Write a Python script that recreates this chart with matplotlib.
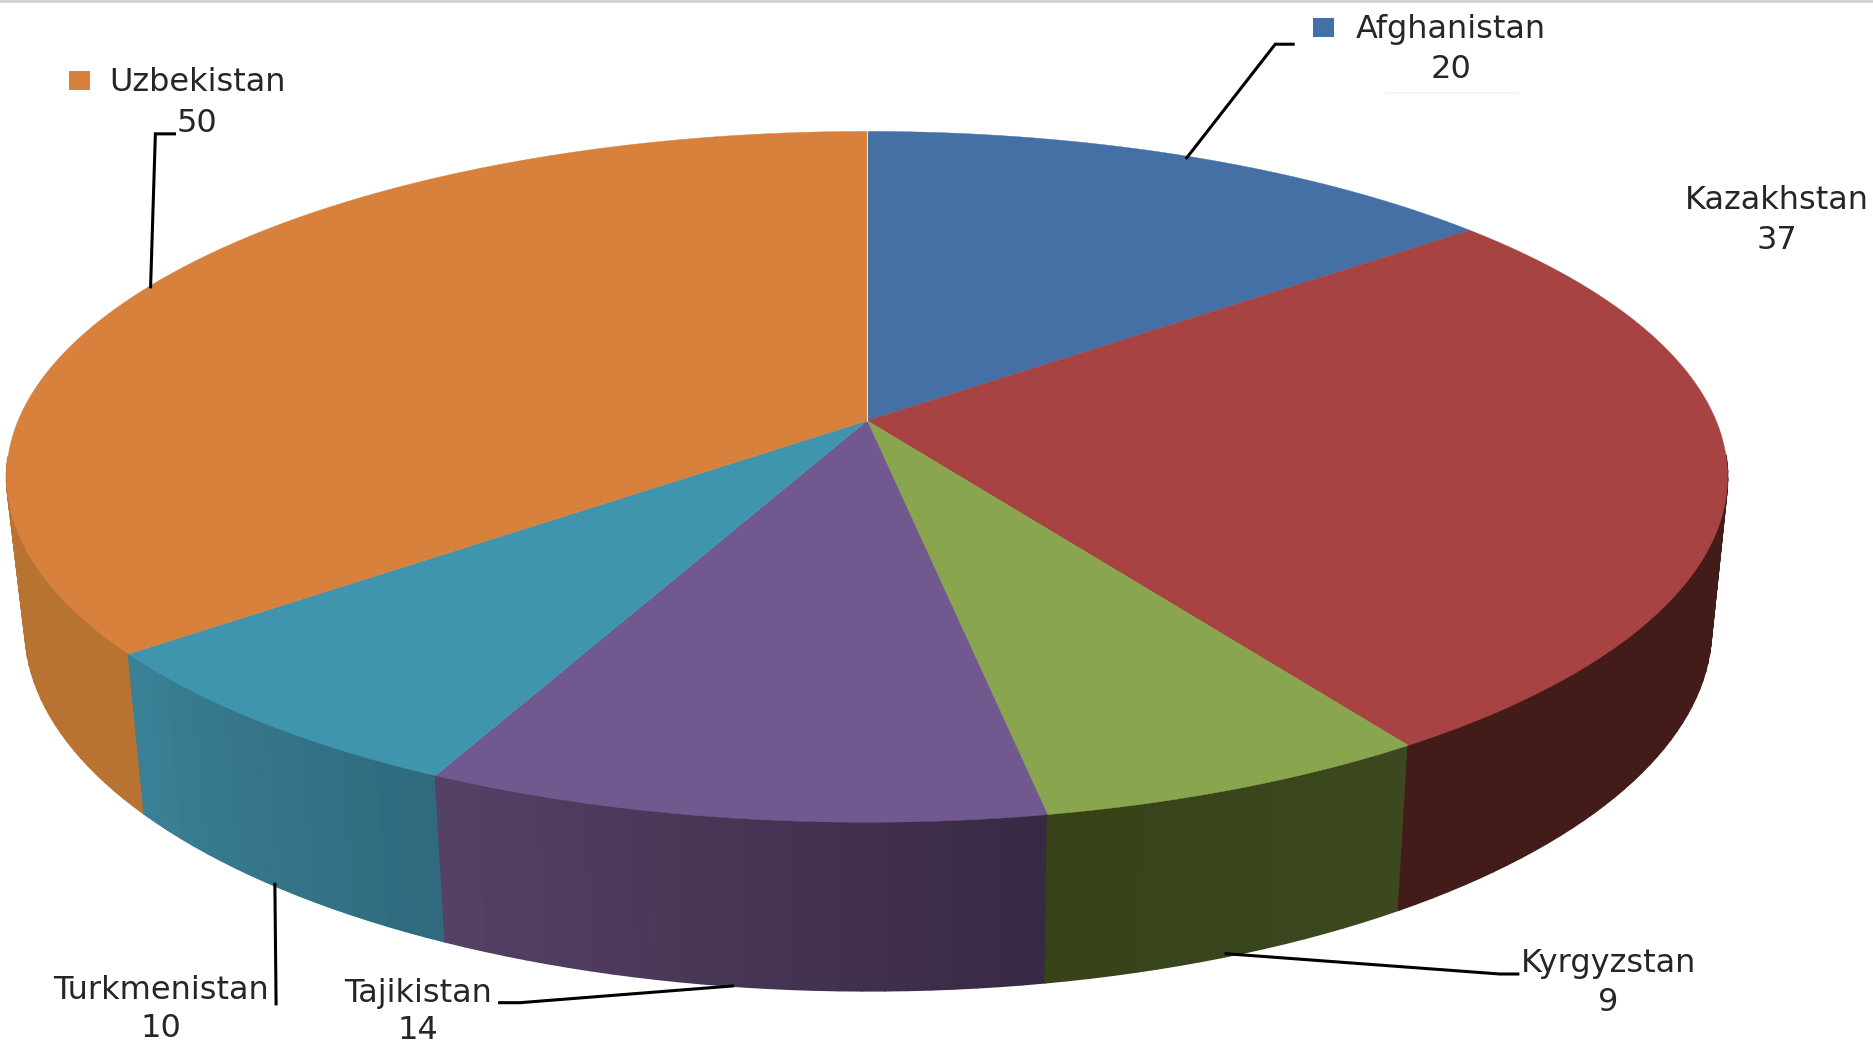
import numpy as np
import matplotlib
matplotlib.use("Agg")
import matplotlib.pyplot as plt
from matplotlib.patches import Polygon, Rectangle

countries = ["Afghanistan", "Kazakhstan", "Kyrgyzstan", "Tajikistan", "Turkmenistan", "Uzbekistan"]
values = [20, 37, 9, 14, 10, 50]
top_colors = ["#4570A6", "#A74342", "#89A54E", "#71588F", "#3F95AD", "#D8813D"]
side_start = ["#2A4468", "#431B18", "#3B4820", "#382A44", "#2F6A7E", "#B87333"]
side_end = ["#2A4468", "#431B18", "#374219", "#554066", "#3A8096", "#B87333"]

W, H = 1568, 874.4
CX, CY = 725.5, 352
RX, RY, K = 710.4, 281.4, 0.1626
BX, BY_S, BY_O = 0.98, 1.05, 106.6


def top_xy(theta):
    u, v = np.sin(theta), np.cos(theta)
    d = 1 + K * v
    return CX + RX * u / d, CY - RY * v / d


def bottom_xy(theta):
    x, y = top_xy(theta)
    return CX + 1 + BX * (x - CX), BY_S * y + BY_O


def mix(c1, c2, t):
    a = np.array(matplotlib.colors.to_rgb(c1))
    b = np.array(matplotlib.colors.to_rgb(c2))
    return tuple(a + (b - a) * t)


fig = plt.figure(figsize=(18.74, 10.45), dpi=100)
ax = fig.add_axes([0, 0, 1, 1])
ax.set_xlim(0, W)
ax.set_ylim(H, 0)
ax.axis("off")

total = sum(values)
edges = 2 * np.pi * np.cumsum([0] + values) / total

# side wall, built from thin strips so it can carry the banded shading
for i in range(len(values)):
    th = np.linspace(edges[i], edges[i + 1], max(int(values[i] * 2), 12))
    for j in range(len(th) - 1):
        if np.cos(th[j]) > -0.12 and np.cos(th[j + 1]) > -0.12:
            continue
        x0, y0 = top_xy(th[j:j + 2])
        x1, y1 = bottom_xy(th[j:j + 2])
        pts = np.column_stack([np.r_[x0, x1[::-1]], np.r_[y0, y1[::-1]]])
        col = mix(side_start[i], side_end[i], j / max(len(th) - 2, 1))
        ax.add_patch(Polygon(pts, closed=True, fc=col, ec=col, lw=1.2,
                             joinstyle="round", zorder=2 + 0.001 * j))

# top face
for i in range(len(values)):
    th = np.linspace(edges[i], edges[i + 1], 200)
    x, y = top_xy(th)
    pts = np.column_stack([np.r_[CX, x], np.r_[CY, y]])
    ax.add_patch(Polygon(pts, closed=True, fc=top_colors[i], ec=top_colors[i], lw=0.3, zorder=3))

# pale seam at twelve o'clock
x, y = top_xy(np.array([0.0]))
ax.plot([CX, x[0]], [CY, y[0]], color="#E8E4DE", lw=0.8, zorder=4)

# labels
label_pos = {
    "Afghanistan": (1214, 25, 58),
    "Kazakhstan": (1487, 168, 201),
    "Kyrgyzstan": (1346, 806, 839),
    "Tajikistan": (350, 831, 862),
    "Turkmenistan": (135, 829, 861),
    "Uzbekistan": (165, 69, 103),
}
FONT = "DejaVu Sans"
for name, val in zip(countries, values):
    lx, y1, y2 = label_pos[name]
    for s, yy in ((name, y1), (str(val), y2)):
        ax.text(lx, yy, s, ha="center", va="center", fontsize=23, family=FONT,
                color="#262626", zorder=6)

# leader lines
leaders = [
    ([993, 1067, 1082], [132, 37, 37]),
    ([126, 130, 146], [240, 112, 112]),
    ([230, 231], [740, 840]),
    ([613, 435, 418], [825, 839, 839]),
    ([1026, 1255, 1270], [798, 815, 815]),
]
for xs, ys in leaders:
    ax.plot(xs, ys, color="black", lw=2.2, solid_joinstyle="miter", zorder=5)

# legend keys
ax.add_patch(Rectangle((1099, 15), 17, 16, fc=top_colors[0], ec="none", zorder=5))
ax.add_patch(Rectangle((58, 59), 17, 16, fc=top_colors[5], ec="none", zorder=5))

# faint rule under the value 20, and grey line along the top edge
ax.plot([1160, 1270], [78, 78], color="#F4F4F4", lw=1.2, zorder=1)
ax.plot([0, W], [0.6, 0.6], color="#D0D0D0", lw=2, zorder=1)

fig.savefig("out.png", dpi=100, facecolor="white")
